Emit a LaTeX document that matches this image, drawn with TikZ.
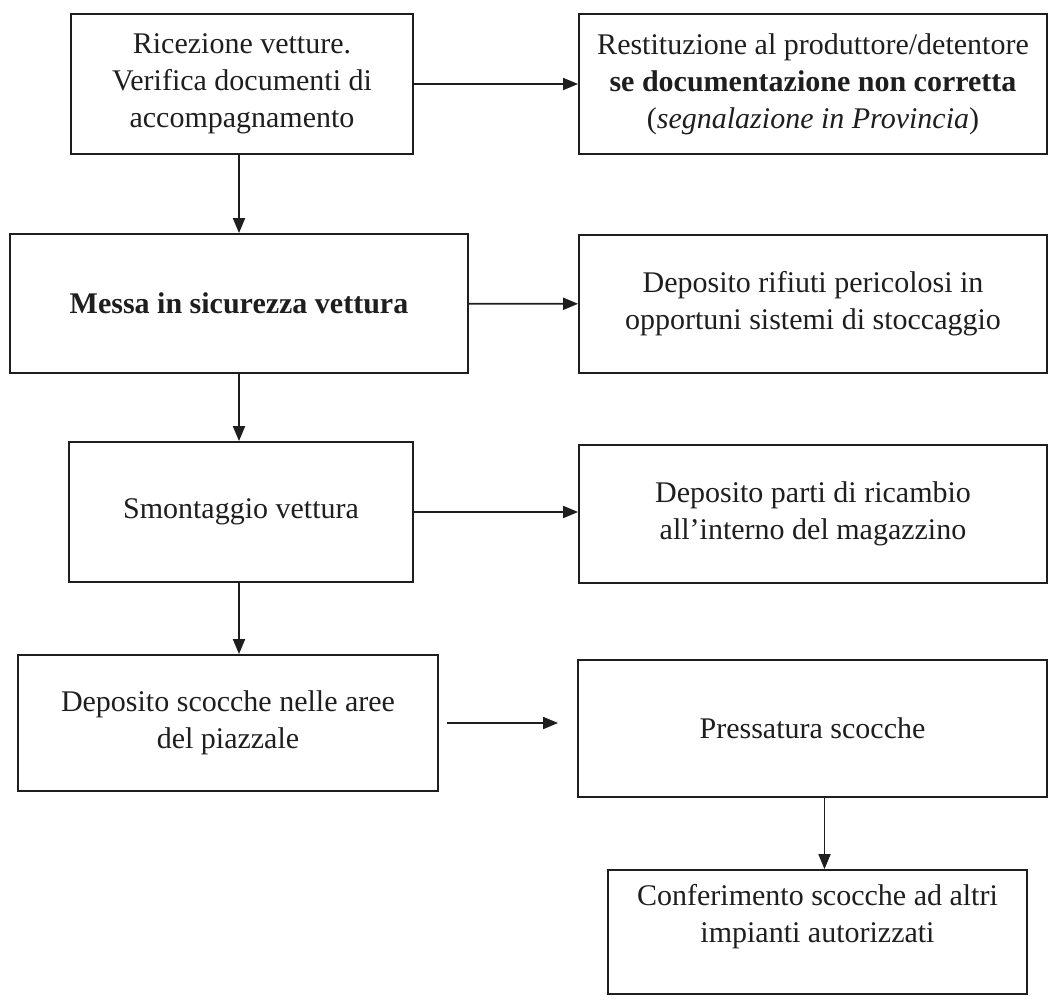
\documentclass[tikz,border=0pt]{standalone}
\usepackage{fontspec}
\setmainfont{Liberation Serif}
\usetikzlibrary{arrows.meta}
\definecolor{ink}{HTML}{1E1E1E}
\begin{document}
\begin{tikzpicture}[x=1pt,y=-1pt,
  box/.style={draw=ink, line width=1.8pt, inner sep=0pt, align=center,
    font=\fontsize{30}{37}\selectfont, text=ink},
  arr/.style={draw=ink, line width=1.8pt, -{Triangle[length=15pt,width=12pt]}}]
\useasboundingbox (0,0) rectangle (1050,1002);
% left column
\node[box, minimum width=342pt, minimum height=140pt] (b1) at (242,84)
  {Ricezione vetture.\\Verifica documenti di\\accompagnamento};
\node[box, minimum width=458pt, minimum height=139pt] (b3) at (239,303.5)
  {\textbf{Messa in sicurezza vettura}};
\node[box, minimum width=344pt, minimum height=140pt] (b5) at (241,512)
  {Smontaggio vettura};
\node[box, minimum width=420pt, minimum height=136pt] (b7) at (228,723)
  {Deposito scocche nelle aree\\del piazzale};
% right column
\node[box, minimum width=468pt, minimum height=140pt] (b2) at (813,84)
  {Restituzione al produttore/detentore\\\textbf{se documentazione non corretta}\\(\textit{segnalazione in Provincia})};
\node[box, minimum width=468pt, minimum height=138pt] (b4) at (813,304)
  {Deposito rifiuti pericolosi in\\opportuni sistemi di stoccaggio};
\node[box, minimum width=468pt, minimum height=138pt] (b6) at (813,514)
  {Deposito parti di ricambio\\all'interno del magazzino};
\node[box, minimum width=469pt, minimum height=137pt] (b8) at (812.5,728.5)
  {Pressatura scocche};
\node[box, minimum width=419pt, minimum height=124pt] (b9) at (817.5,932)
  {Conferimento scocche ad altri\\impianti autorizzati\\\mbox{}};
% connectors
\draw[arr] (b1) -- (b2);
\draw[arr] (b3) -- (b4);
\draw[arr] (b5.east) -- (b6.west |- b5.east);
\draw[arr, shorten <=8pt, shorten >=19pt] (b7.east) -- (b8.west |- b7.east);
\draw[arr] (b1.south -| b3.north) -- (b3.north);
\draw[arr] (b3.south) -- (b5.north -| b3.south);
\draw[arr] (b5.south -| b3.south) -- (b7.north -| b3.south);
\draw[arr] ([xshift=7pt]b9.north |- b8.south) -- ([xshift=7pt]b9.north);
\end{tikzpicture}
\end{document}
